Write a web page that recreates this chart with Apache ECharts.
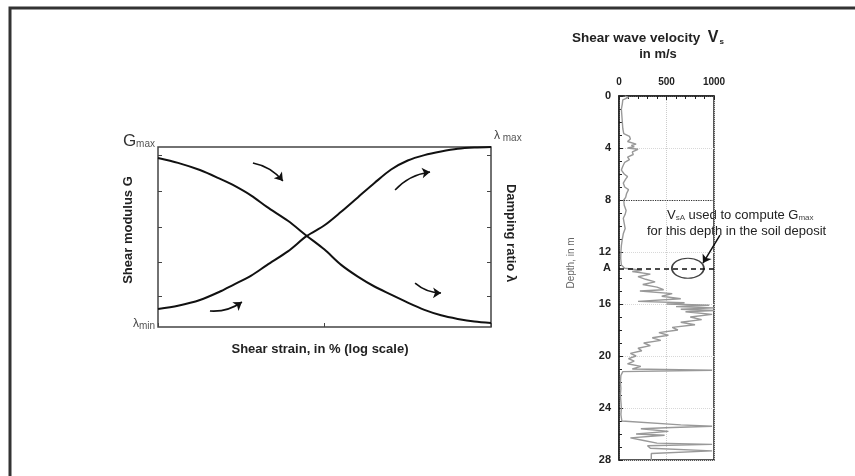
<!DOCTYPE html>
<html><head><meta charset="utf-8">
<script src="https://cdn.jsdelivr.net/npm/echarts@6/dist/echarts.min.js"></script>
<style>html,body{margin:0;padding:0;background:#fff}#c{width:855px;height:476px}</style>
</head><body><div id="c"></div>
<script>
// Left chart: normalized shear strain (log scale, 0..1) and normalized curves
const strain = [0, 0.06, 0.126, 0.19, 0.225, 0.28, 0.327, 0.39, 0.447, 0.5, 0.55, 0.6, 0.65, 0.7, 0.75, 0.8, 0.85, 0.9, 0.95, 1.0];
const shearModulus = [0.939, 0.912, 0.872, 0.82, 0.789, 0.73, 0.667, 0.59, 0.506, 0.43, 0.345, 0.28, 0.225, 0.18, 0.135, 0.095, 0.065, 0.045, 0.03, 0.022];
const dampingRatio = [0.1, 0.118, 0.15, 0.2, 0.233, 0.285, 0.344, 0.42, 0.506, 0.565, 0.64, 0.72, 0.8, 0.875, 0.925, 0.955, 0.975, 0.99, 0.997, 1.0];
const leftTickValues = [0.172, 0.361, 0.556, 0.756, 0.956];
// curved arrows: [x1, y1, x2, y2] in normalized axis units
const curveArrows = [[0.285, 0.911, 0.375, 0.811], [0.712, 0.761, 0.817, 0.861], [0.772, 0.244, 0.85, 0.189], [0.156, 0.089, 0.252, 0.139]];

// Right chart: shear wave velocity profile
const depth = [0.0,0.1,0.2,0.3,0.6,1.0,1.5,2.0,2.5,2.9,3.1,3.3,3.5,3.7,3.8,3.9,4.0,4.1,4.3,4.5,4.7,4.9,5.1,5.4,5.7,6.0,6.2,6.4,6.7,7.0,7.2,7.5,7.8,8.0,8.4,8.8,9.1,9.4,9.8,10.2,10.6,11.0,11.5,12.0,12.5,13.0,13.25,13.4,13.5,13.7,13.9,14.1,14.3,14.5,14.7,14.9,15.0,15.2,15.4,15.6,15.8,15.9,16.0,16.1,16.2,16.3,16.4,16.5,16.6,16.8,17.0,17.2,17.4,17.6,17.8,18.0,18.2,18.4,18.6,18.8,19.0,19.2,19.4,19.6,19.8,20.0,20.2,20.4,20.6,20.8,21.0,21.1,21.2,21.5,22.0,22.5,23.0,23.5,24.0,24.5,25.0,25.3,25.4,25.5,25.6,25.8,26.0,26.1,26.3,26.5,26.7,26.8,26.9,27.1,27.3,27.5,27.7,28.0];
const velocity = [60,100,70,40,35,25,30,35,40,50,110,120,90,180,130,160,90,200,140,150,90,110,60,40,25,55,90,70,45,60,100,80,70,50,55,75,65,45,55,65,45,35,25,20,18,25,60,240,140,330,200,280,380,250,400,470,220,560,450,650,200,690,500,950,600,1000,650,1000,700,980,750,870,650,800,560,620,420,520,350,440,260,330,200,240,120,180,100,160,90,230,140,980,40,20,15,20,15,20,25,20,30,650,980,560,230,520,180,480,120,260,400,980,300,330,980,340,340,340];
const depthTickLabels = [0, 4, 8, 12, 13.25, 16, 20, 24, 28];
const depthA = 13.25;
const depthDotted = 8;
const circlePoint = [725, 13.25];
const pointerArrow = [1063, 10.7, 884, 12.85];

const chart = echarts.init(document.getElementById('c'));
const txt = '#222';
const bend = [0.18, 0.18, -0.18, -0.18];
const arrowLines = arr => arr.map((a, i) => ({coords: [[a[0], a[1]], [a[2], a[3]]], lineStyle: {curveness: bend[i]}}));

chart.setOption({
  animation: false,
  backgroundColor: '#fff',
  grid: [
    {left: 158, top: 147, width: 333, height: 180, show: true, borderColor: '#444', borderWidth: 1.5, containLabel: false},
    {left: 619, top: 96, width: 95, height: 364, show: true, borderColor: '#222', borderWidth: 1.5, containLabel: false}
  ],
  xAxis: [
    {gridIndex: 0, type: 'value', min: 0, max: 1, interval: 0.5,
     axisLine: {show: false}, axisLabel: {show: false}, splitLine: {show: false},
     axisTick: {inside: true, length: 4, lineStyle: {color: '#444'}}},
    {gridIndex: 1, type: 'value', position: 'top', min: 0, max: 1000, interval: 500,
     axisLine: {show: true, lineStyle: {color: '#222', width: 1.5}},
     axisTick: {inside: true, length: 4, lineStyle: {color: '#222'}},
     minorTick: {show: true, splitNumber: 5, length: 3, lineStyle: {color: '#222'}},
     axisLabel: {color: txt, fontWeight: 'bold', fontSize: 10, fontFamily: 'Liberation Sans Narrow, Liberation Sans, sans-serif', margin: 9,
       formatter: v => String(v)},
     splitLine: {show: true, lineStyle: {color: '#ccc', type: 'dotted'}}}
  ],
  yAxis: [
    {gridIndex: 0, type: 'value', min: 0, max: 1, position: 'left',
     axisLine: {show: false}, axisLabel: {show: false}, splitLine: {show: false},
     axisTick: {inside: true, length: 4, customValues: leftTickValues, lineStyle: {color: '#444'}}},
    {gridIndex: 0, type: 'value', min: 0, max: 1, position: 'right',
     axisLine: {show: false}, axisLabel: {show: false}, splitLine: {show: false},
     axisTick: {inside: true, length: 4, customValues: leftTickValues, lineStyle: {color: '#444'}}},
    {gridIndex: 1, type: 'value', inverse: true, min: 0, max: 28, interval: 4,
     axisLine: {show: true, lineStyle: {color: '#222', width: 1.5}},
     axisTick: {inside: true, length: 4, lineStyle: {color: '#222'}},
     minorTick: {show: true, splitNumber: 4, length: 3, lineStyle: {color: '#222'}},
     axisLabel: {customValues: depthTickLabels, color: txt, fontWeight: 'bold', fontSize: 11,
       fontFamily: 'Liberation Sans Narrow, Liberation Sans, sans-serif', margin: 8,
       formatter: v => (v === depthA ? 'A' : String(v))},
     splitLine: {show: true, lineStyle: {color: '#d8d8d8', type: 'dotted'}}}
  ],
  series: [
    {type: 'line', xAxisIndex: 0, yAxisIndex: 0, smooth: 0.3, showSymbol: false,
     lineStyle: {color: '#111', width: 2}, data: strain.map((s, i) => [s, shearModulus[i]])},
    {type: 'line', xAxisIndex: 0, yAxisIndex: 0, smooth: 0.3, showSymbol: false,
     lineStyle: {color: '#111', width: 2}, data: strain.map((s, i) => [s, dampingRatio[i]])},
    {type: 'lines', coordinateSystem: 'cartesian2d', xAxisIndex: 0, yAxisIndex: 0,
     symbol: ['none', 'arrow'], symbolSize: 8,
     lineStyle: {color: '#111', width: 1.6, opacity: 1},
     data: arrowLines(curveArrows)},
    {type: 'line', xAxisIndex: 1, yAxisIndex: 2, showSymbol: false,
     lineStyle: {color: '#999', width: 1.4}, data: depth.map((d, i) => [velocity[i], d]),
     markLine: {silent: true, symbol: 'none', label: {show: false},
       data: [
         {yAxis: depthDotted, lineStyle: {color: '#333', type: 'dotted', width: 1.2}},
         {yAxis: depthA, lineStyle: {color: '#111', type: [5, 4], width: 1.5}}
       ]}},
    {type: 'scatter', xAxisIndex: 1, yAxisIndex: 2, symbol: 'circle', symbolSize: [32, 20],
     itemStyle: {color: 'rgba(0,0,0,0)', borderColor: '#111', borderWidth: 1.5}, data: [circlePoint]},
    {type: 'lines', coordinateSystem: 'cartesian2d', xAxisIndex: 1, yAxisIndex: 2, clip: false,
     symbol: ['none', 'arrow'], symbolSize: 8, lineStyle: {color: '#111', width: 1.5, opacity: 1},
     data: [{coords: [[pointerArrow[0], pointerArrow[1]], [pointerArrow[2], pointerArrow[3]]]}]}
  ],
  graphic: [
    {type: 'rect', shape: {x: 10, y: 8, width: 900, height: 520}, style: {fill: 'none', stroke: '#333', lineWidth: 3}, silent: true},
    // Left chart labels
    {type: 'text', x: 155, y: 150, style: {text: '{a|G}{b|max}', align: 'right', verticalAlign: 'bottom',
      rich: {a: {fontSize: 17, fill: '#333', fontFamily: 'Liberation Sans, Arial, sans-serif'}, b: {fontSize: 10, fill: '#555', padding: [6, 0, 0, 0], fontFamily: 'Liberation Sans, Arial, sans-serif'}}}},
    {type: 'text', x: 155, y: 331, style: {text: '{a|λ}{b|min}', align: 'right', verticalAlign: 'bottom',
      rich: {a: {fontSize: 12, fill: '#444'}, b: {fontSize: 10, fill: '#555', padding: [5, 0, 0, 0]}}}},
    {type: 'text', x: 494, y: 143, style: {text: '{a|λ}{b| max}', align: 'left', verticalAlign: 'bottom',
      rich: {a: {fontSize: 12, fill: '#444'}, b: {fontSize: 10, fill: '#555', padding: [5, 0, 0, 0]}}}},
    {type: 'text', x: 128, y: 230, rotation: Math.PI / 2, style: {text: 'Shear modulus G', align: 'center', verticalAlign: 'middle',
      fontSize: 13, fontWeight: 'bold', fill: txt, fontFamily: 'Liberation Sans, Arial, sans-serif'}},
    {type: 'text', x: 511, y: 233, rotation: -Math.PI / 2, style: {text: 'Damping ratio λ', align: 'center', verticalAlign: 'middle',
      fontSize: 13, fontWeight: 'bold', fill: txt, fontFamily: 'Liberation Sans, Arial, sans-serif'}},
    {type: 'text', x: 320, y: 349, style: {text: 'Shear strain, in % (log scale)', align: 'center', verticalAlign: 'middle',
      fontSize: 13, fontWeight: 'bold', fill: txt, fontFamily: 'Liberation Sans, Arial, sans-serif'}},
    // Right chart labels
    {type: 'text', x: 572, y: 38, style: {text: '{a|Shear wave velocity  }{v|V}{s|s}', align: 'left', verticalAlign: 'middle',
      rich: {a: {fontSize: 13.5, fontWeight: 'bold', fill: txt, fontFamily: 'Liberation Sans, Arial, sans-serif'},
             v: {fontSize: 16, fontWeight: 'bold', fill: txt, fontFamily: 'Liberation Sans, Arial, sans-serif'},
             s: {fontSize: 8, fontWeight: 'bold', fill: txt, padding: [7, 0, 0, 1]}}}},
    {type: 'text', x: 658, y: 54, style: {text: 'in m/s', align: 'center', verticalAlign: 'middle',
      fontSize: 13, fontWeight: 'bold', fill: txt, fontFamily: 'Liberation Sans, Arial, sans-serif'}},
    {type: 'text', x: 571, y: 263, rotation: Math.PI / 2, style: {text: 'Depth, in m', align: 'center', verticalAlign: 'middle',
      fontSize: 10, fill: '#666', fontFamily: 'Liberation Sans, Arial, sans-serif'}},
    {type: 'text', x: 667, y: 215, style: {text: '{a|V}{b|sA}{a| used to compute G}{b|max}', align: 'left', verticalAlign: 'middle',
      rich: {a: {fontSize: 13, fill: '#222', fontFamily: 'Liberation Sans, Arial, sans-serif'}, b: {fontSize: 8, fill: '#444', padding: [6, 0, 0, 0]}}}},
    {type: 'text', x: 647, y: 231, style: {text: 'for this depth in the soil deposit', align: 'left', verticalAlign: 'middle',
      fontSize: 13, fill: '#222', fontFamily: 'Liberation Sans, Arial, sans-serif'}}
  ]
});
</script></body></html>
